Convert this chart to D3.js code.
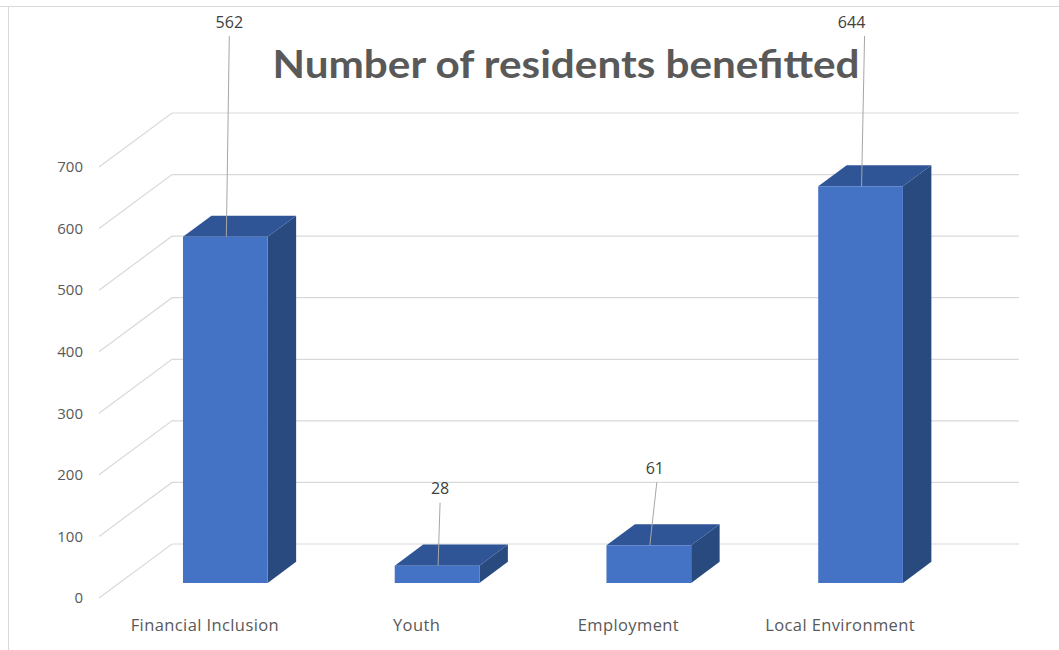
<!doctype html>
<html>
<head>
    <meta charset="utf-8"/>
    <style>
        html, body {
            margin: 0px;
            background: #fff;
        }
        svg {
            display: block;
        }
    </style>
    <script src="https://d3js.org/d3.v7.min.js"></script>
</head>
<body>

<svg width="1059" height="650"></svg>

<script>

    var categories = ["Financial Inclusion", "Youth", "Employment", "Local Environment"];
    var residents = [562, 28, 61, 644];
    var yTicks = [0, 100, 200, 300, 400, 500, 600, 700];
    var chartTitle = "Number of residents benefitted";

    // 3D look: how far the back wall sits up/right of the front edge
    var DEPTH_X = 73;
    var DEPTH_Y = 54;
    var BAR_FRONT = 0.28;   // bar depth, as fraction of floor depth (0 = front)
    var BAR_BACK = 0.67;
    var LABEL_DX = [4, 3, 6, -9];
    var LINE_DX = [4, 3, 8, 4];

    var svg = d3.select("svg");
    var width = 1059, height = 650;

    // chart area frame
    svg.append("line")
        .attr("x1", 0).attr("x2", width).attr("y1", 6.5).attr("y2", 6.5)
        .attr("stroke", "#d9d9d9");
    svg.append("line")
        .attr("x1", 8.5).attr("x2", 8.5).attr("y1", 6).attr("y2", height)
        .attr("stroke", "#d9d9d9");

    var x = d3.scaleBand()
        .domain(categories)
        .range([99, 946])
        .paddingInner(0.6)
        .paddingOuter(0.3);

    var y = d3.scaleLinear()
        .domain([0, 700])
        .range([598, 167]);

    // project (screen x on the front plane, value, depth) to the screen
    function proj(px, v, z) {
        return [px + z * DEPTH_X, y(v) - z * DEPTH_Y];
    }

    var left = x.range()[0], right = x.range()[1];

    // --- GRID: side wall diagonals and back wall lines --- //
    var grid = svg.append("g");
    yTicks.forEach(function(t) {
        var a = proj(left, t, 0), b = proj(left, t, 1), c = proj(right, t, 1);
        grid.append("path")
            .attr("d", "M" + a + "L" + b + "L" + c)
            .attr("fill", "none")
            .attr("stroke", "#d9d9d9")
            .attr("stroke-width", 1.2);
    });

    // y axis labels
    svg.append("g")
        .selectAll("text")
        .data(yTicks)
        .enter().append("text")
        .attr("x", 83)
        .attr("y", function(d) { return y(d); })
        .attr("dy", "0.35em")
        .attr("text-anchor", "end")
        .attr("font-family", "'Open Sans', sans-serif")
        .attr("font-size", 15)
        .attr("fill", "#595959")
        .text(function(d) { return d; });

    // --- BARS --- //
    var bars = categories.map(function(c, i) {
        return {name: c, value: residents[i], x0: x(c), x1: x(c) + x.bandwidth(), i: i};
    });

    function poly(pts) {
        return "M" + pts.join("L") + "Z";
    }

    var barG = svg.append("g")
        .selectAll("g")
        .data(bars)
        .enter().append("g");

    // right side
    barG.append("path")
        .attr("d", function(d) {
            return poly([proj(d.x1, 0, BAR_FRONT), proj(d.x1, d.value, BAR_FRONT),
                proj(d.x1, d.value, BAR_BACK), proj(d.x1, 0, BAR_BACK)]);
        })
        .attr("fill", "#284a7f");

    // top
    barG.append("path")
        .attr("d", function(d) {
            return poly([proj(d.x0, d.value, BAR_FRONT), proj(d.x1, d.value, BAR_FRONT),
                proj(d.x1, d.value, BAR_BACK), proj(d.x0, d.value, BAR_BACK)]);
        })
        .attr("fill", "#2f5597");

    // front
    barG.append("path")
        .attr("d", function(d) {
            return poly([proj(d.x0, 0, BAR_FRONT), proj(d.x1, 0, BAR_FRONT),
                proj(d.x1, d.value, BAR_FRONT), proj(d.x0, d.value, BAR_FRONT)]);
        })
        .attr("fill", "#4472c4");

    // --- DATA LABELS with leader lines --- //
    // short bars get their label a little above; tall bars get it at the top of the chart
    function labelValue(v) {
        return v < 300 ? v + 125 : 911;
    }

    barG.append("line")
        .attr("x1", function(d) { return proj(d.x0, 0, BAR_FRONT)[0] + x.bandwidth() / 2 + LINE_DX[d.i]; })
        .attr("y1", function(d) { return proj(0, labelValue(d.value), BAR_FRONT)[1] + 14; })
        .attr("x2", function(d) { return proj(d.x0, 0, BAR_FRONT)[0] + x.bandwidth() / 2 + 1; })
        .attr("y2", function(d) { return proj(0, d.value, BAR_FRONT)[1]; })
        .attr("stroke", "#a6a6a6")
        .attr("stroke-width", 1);

    barG.append("text")
        .attr("x", function(d) { return proj(d.x0, 0, BAR_FRONT)[0] + x.bandwidth() / 2 + LABEL_DX[d.i]; })
        .attr("y", function(d) { return proj(0, labelValue(d.value), BAR_FRONT)[1]; })
        .attr("dy", "0.35em")
        .attr("text-anchor", "middle")
        .attr("font-family", "'Open Sans', sans-serif")
        .attr("font-size", 16)
        .attr("fill", "#404040")
        .text(function(d) { return d.value; });

    // --- CATEGORY LABELS --- //
    svg.append("g")
        .selectAll("text")
        .data(categories)
        .enter().append("text")
        .attr("x", function(d) { return x(d) + x.bandwidth() / 2; })
        .attr("y", 625)
        .attr("dy", "0.35em")
        .attr("text-anchor", "middle")
        .attr("font-family", "'Open Sans', sans-serif")
        .attr("font-size", 16.5)
        .attr("letter-spacing", 0.4)
        .attr("fill", "#595959")
        .text(function(d) { return d; });

    // --- TITLE --- //
    svg.append("text")
        .attr("x", 566)
        .attr("y", 78)
        .attr("text-anchor", "middle")
        .attr("font-family", "Lato, 'Open Sans', sans-serif")
        .attr("font-weight", "bold")
        .attr("font-size", 39)
        .attr("fill", "#595959")
        .attr("textLength", 587)
        .attr("lengthAdjust", "spacingAndGlyphs")
        .text(chartTitle);

</script>

</body>
</html>
